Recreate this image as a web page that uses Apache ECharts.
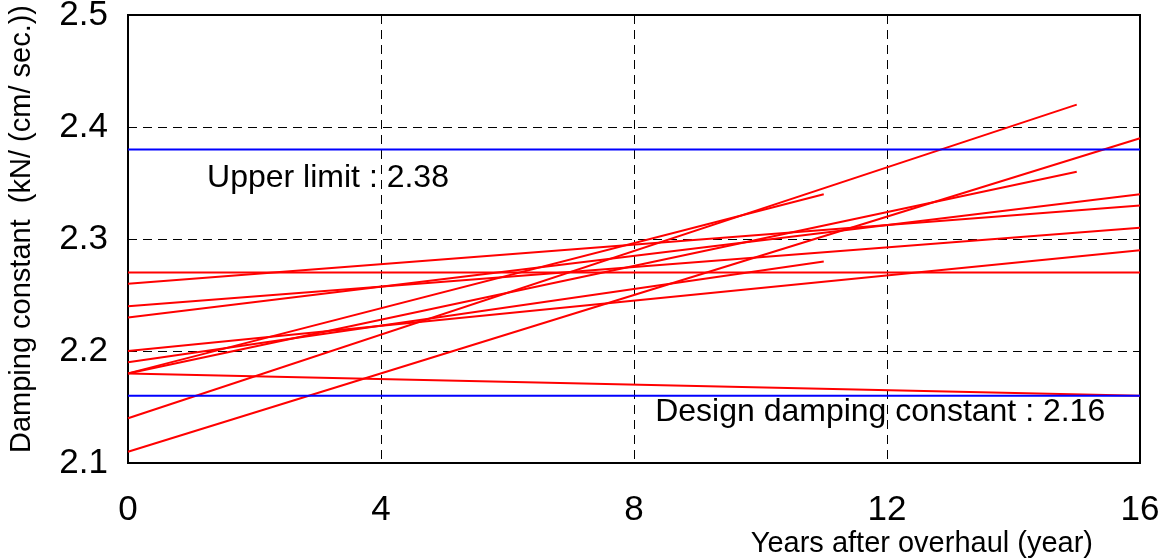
<!DOCTYPE html>
<html>
<head>
<meta charset="utf-8">
<title>Damping constant trend</title>
<script src="https://cdn.jsdelivr.net/npm/echarts@6/dist/echarts.min.js"></script>
<style>
  html, body { margin: 0; padding: 0; background: #fff; }
  #chart { width: 1162px; height: 559px; }
</style>
</head>
<body>
<div id="chart"></div>
<script>
// Axis ticks
const xTicks = [0, 4, 8, 12, 16];
const yTicks = [2.1, 2.2, 2.3, 2.4, 2.5];

// Regression lines of individual dampers: value at overhaul, last year, value at last year
const lineStartValue = [2.27, 2.26, 2.24, 2.23, 2.20, 2.19, 2.18, 2.18, 2.18, 2.14, 2.11];
const lineEndYear    = [16,   16,   16,   16,   16,   11,   11,   15,   16,   15,   16];
const lineEndValue   = [2.27, 2.33, 2.31, 2.34, 2.29, 2.28, 2.34, 2.36, 2.16, 2.42, 2.39];

// Reference levels
const upperLimit = 2.38;
const designValue = 2.16;
const upperLabel = 'Upper limit : 2.38';
const designLabel = 'Design damping constant : 2.16';

const FONT = '"Liberation Sans", Arial, sans-serif';

const chart = echarts.init(document.getElementById('chart'), null, { renderer: 'canvas' });

const trendSeries = lineStartValue.map((v, i) => ({
  type: 'line',
  data: [[0, v], [lineEndYear[i], lineEndValue[i]]],
  symbol: 'none',
  lineStyle: { color: '#ff0000', width: 2 },
  z: 3,
  silent: true
}));

const levelSeries = [upperLimit, designValue].map(v => ({
  type: 'line',
  data: [[xTicks[0], v], [xTicks[xTicks.length - 1], v]],
  symbol: 'none',
  lineStyle: { color: '#0000ff', width: 2 },
  z: 4,
  silent: true
}));

chart.setOption({
  animation: false,
  backgroundColor: '#ffffff',
  grid: {
    left: 128, right: 22, top: 15, bottom: 96,
    outerBoundsMode: 'none',
    containLabel: false,
    show: true, borderColor: '#000', borderWidth: 2, backgroundColor: 'transparent'
  },
  xAxis: {
    type: 'value',
    min: xTicks[0], max: xTicks[xTicks.length - 1], interval: 4,
    axisLine: { show: true, onZero: false, lineStyle: { color: '#000', width: 2 } },
    axisTick: { show: false },
    axisLabel: { color: '#000', fontSize: 35, fontFamily: FONT, margin: 30 },
    splitLine: { show: true, lineStyle: { color: '#000', width: 1, type: [9, 6] } },
    name: 'Years after overhaul (year)',
    nameLocation: 'end',
    nameGap: -47,
    nameTextStyle: {
      color: '#000', fontSize: 29, fontFamily: FONT,
      align: 'right', verticalAlign: 'top', padding: [66, 0, 0, 0]
    }
  },
  yAxis: {
    type: 'value',
    min: yTicks[0], max: yTicks[yTicks.length - 1], interval: 0.1,
    axisLine: { show: true, onZero: false, lineStyle: { color: '#000', width: 2 } },
    axisTick: { show: false },
    axisLabel: {
      color: '#000', fontSize: 35, fontFamily: FONT, margin: 20,
      padding: [16, 0, 0, 0],
      formatter: v => v.toFixed(1)
    },
    splitLine: { show: true, lineStyle: { color: '#000', width: 1, type: [9, 6] } },
    name: 'Damping constant  (kN/ (cm/ sec.))',
    nameLocation: 'middle',
    nameRotate: 90,
    nameGap: 92,
    nameTextStyle: { color: '#000', fontSize: 29, fontFamily: FONT, padding: [0, 0, 0, 20] }
  },
  series: trendSeries.concat(levelSeries)
});

// Annotations anchored to data coordinates of the reference levels
const upperPos = chart.convertToPixel({ gridIndex: 0 }, [1.25, upperLimit]);
const designPos = chart.convertToPixel({ gridIndex: 0 }, [15.45, designValue]);
chart.setOption({
  graphic: [
    {
      type: 'text', x: upperPos[0], y: upperPos[1] + 29, z: 10,
      style: { text: upperLabel, fill: '#000', font: '32px ' + FONT, textAlign: 'left', textVerticalAlign: 'middle' }
    },
    {
      type: 'text', x: designPos[0], y: designPos[1] + 16, z: 10,
      style: { text: designLabel, fill: '#000', font: '32px ' + FONT, textAlign: 'right', textVerticalAlign: 'middle' }
    }
  ]
});
</script>
</body>
</html>
